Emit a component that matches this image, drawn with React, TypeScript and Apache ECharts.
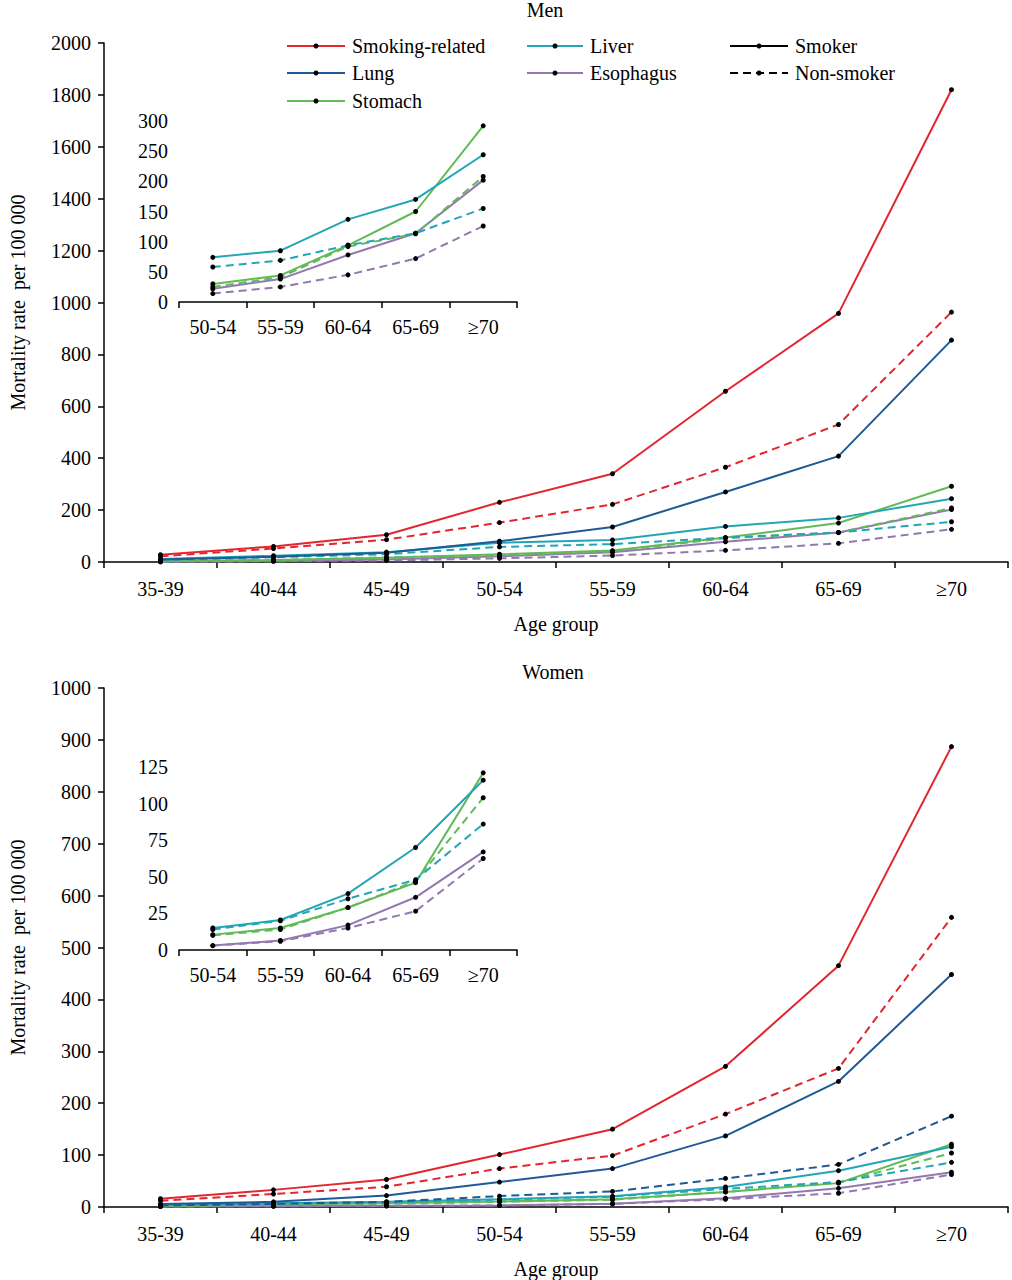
import React, { useEffect, useRef } from "react";
import * as echarts from "echarts";

const ageGroups = ["35-39", "40-44", "45-49", "50-54", "55-59", "60-64", "65-69", "≥70"];
const insetFrom = 3;

// Men (per 100 000)
const menSmokingRelatedSmoker = [28, 60, 105, 230, 340, 658, 958, 1820];
const menSmokingRelatedNonSmoker = [22, 52, 86, 152, 222, 365, 530, 963];
const menLungSmoker = [10, 20, 36, 80, 135, 270, 408, 855];
const menLiverSmoker = [12, 24, 38, 74, 85, 137, 170, 244];
const menLiverNonSmoker = [8, 18, 30, 58, 69, 94, 114, 155];
const menStomachSmoker = [3, 8, 16, 30, 44, 94, 150, 292];
const menStomachNonSmoker = [3, 7, 18, 25, 41, 92, 113, 208];
const menEsophagusSmoker = [1, 4, 10, 22, 38, 78, 114, 202];
const menEsophagusNonSmoker = [1, 3, 6, 14, 25, 45, 72, 126];

// Women (per 100 000)
const womenSmokingRelatedSmoker = [16, 33, 53, 101, 150, 271, 465, 887];
const womenSmokingRelatedNonSmoker = [12, 25, 39, 74, 99, 179, 267, 558];
const womenLungSmoker = [6, 10, 22, 48, 74, 137, 242, 448];
const womenLungNonSmoker = [3, 6, 10, 21, 30, 55, 82, 175];
const womenLiverSmoker = [4, 7, 10, 15, 20.5, 38.5, 70, 116];
const womenLiverNonSmoker = [3, 6, 9, 14, 20, 35, 48, 86];
const womenStomachSmoker = [2, 5, 7, 10.5, 15, 29, 46, 121];
const womenStomachNonSmoker = [2, 4, 6, 10, 14, 29, 47, 104];
const womenEsophagusSmoker = [1, 2, 2.5, 3, 6.5, 17, 36, 67];
const womenEsophagusNonSmoker = [1, 1.5, 2, 3, 6, 15, 26.5, 62.5];

const legendLabels = ["Smoking-related", "Lung", "Stomach", "Liver", "Esophagus", "Smoker", "Non-smoker"];

const C = {
  red: "#e3262d",
  lung: "#1f5996",
  liver: "#22a6b6",
  esoph: "#9378b0",
  stomach: "#62b957",
  black: "#000000",
};

const FONT = "Liberation Serif, Times New Roman, serif";
const plain = (v: number) => String(v);

function line(name: string, data: number[], color: string, dashed: boolean, axis: number) {
  return {
    type: "line",
    name,
    data,
    xAxisIndex: axis,
    yAxisIndex: axis,
    symbol: "circle",
    symbolSize: 5,
    showSymbol: true,
    itemStyle: { color: "#000" },
    lineStyle: { color, width: 2, type: dashed ? [8, 5] : "solid" },
    emphasis: { disabled: true },
  };
}

function mainX(gridIndex: number) {
  return {
    type: "category",
    gridIndex,
    data: ageGroups,
    boundaryGap: true,
    axisLine: { show: true, lineStyle: { color: "#000", width: 1.5 } },
    axisTick: { show: true, length: 6, lineStyle: { color: "#000", width: 1.5 } },
    axisLabel: { color: "#000", fontSize: 20, fontFamily: FONT, margin: 17 },
    name: "Age group",
    nameLocation: "middle",
    nameGap: 52,
    nameTextStyle: { color: "#000", fontSize: 20, fontFamily: FONT },
  };
}

function mainY(gridIndex: number, max: number, interval: number) {
  return {
    type: "value",
    gridIndex,
    min: 0,
    max,
    interval,
    splitLine: { show: false },
    axisLine: { show: true, lineStyle: { color: "#000", width: 1.5 } },
    axisTick: { show: true, length: 6, lineStyle: { color: "#000", width: 1.5 } },
    axisLabel: { color: "#000", fontSize: 20, fontFamily: FONT, margin: 13, formatter: plain },
    name: "Mortality rate  per 100 000",
    nameLocation: "middle",
    nameRotate: 90,
    nameGap: 76,
    nameTextStyle: { color: "#000", fontSize: 20, fontFamily: FONT },
  };
}

function insetX(gridIndex: number) {
  return {
    type: "category",
    gridIndex,
    data: ageGroups.slice(insetFrom),
    boundaryGap: true,
    axisLine: { show: true, lineStyle: { color: "#000", width: 1.5 } },
    axisTick: { show: true, length: 6, lineStyle: { color: "#000", width: 1.5 } },
    axisLabel: { color: "#000", fontSize: 20, fontFamily: FONT, margin: 15 },
  };
}

function insetY(gridIndex: number, max: number, interval: number) {
  return {
    type: "value",
    gridIndex,
    min: 0,
    max,
    interval,
    splitLine: { show: false },
    axisLine: { show: false },
    axisTick: { show: false },
    axisLabel: { color: "#000", fontSize: 20, fontFamily: FONT, margin: 11, formatter: plain },
  };
}

function legendGraphics() {
  const cols = [
    { x1: 287, x2: 345, tx: 352 },
    { x1: 527, x2: 583, tx: 590 },
    { x1: 730, x2: 788, tx: 795 },
  ];
  const rows = [46, 73, 101];
  const items = [
    { label: legendLabels[0], color: C.red, dashed: false, c: 0, r: 0 },
    { label: legendLabels[1], color: C.lung, dashed: false, c: 0, r: 1 },
    { label: legendLabels[2], color: C.stomach, dashed: false, c: 0, r: 2 },
    { label: legendLabels[3], color: C.liver, dashed: false, c: 1, r: 0 },
    { label: legendLabels[4], color: C.esoph, dashed: false, c: 1, r: 1 },
    { label: legendLabels[5], color: C.black, dashed: false, c: 2, r: 0 },
    { label: legendLabels[6], color: C.black, dashed: true, c: 2, r: 1 },
  ];
  const els: any[] = [];
  items.forEach((it) => {
    const col = cols[it.c];
    const y = rows[it.r];
    els.push({
      type: "line",
      shape: { x1: col.x1, y1: y, x2: col.x2, y2: y },
      style: { stroke: it.color, lineWidth: 2, lineDash: it.dashed ? [8, 5] : null },
    });
    els.push({
      type: "circle",
      shape: { cx: (col.x1 + col.x2) / 2, cy: y, r: 2.5 },
      style: { fill: "#000" },
    });
    els.push({
      type: "text",
      x: col.tx,
      y,
      style: {
        text: it.label,
        fill: "#000",
        font: `20px ${FONT}`,
        textVerticalAlign: "middle",
        verticalAlign: "middle",
      },
    });
  });
  return els;
}

export default function App() {
  const ref = useRef<HTMLDivElement>(null);
  useEffect(() => {
    document.body.style.margin = "0";
    if (!ref.current) return;
    const chart = echarts.init(ref.current, null, { renderer: "svg" });
    const sl = (a: number[]) => a.slice(insetFrom);
    const option: any = {
      animation: false,
      backgroundColor: "#fff",
      title: [
        { text: "Men", left: 545, top: 0, padding: 0, textAlign: "center", textStyle: { fontSize: 20, fontWeight: "normal", fontFamily: FONT, color: "#000" } },
        { text: "Women", left: 553, top: 662, padding: 0, textAlign: "center", textStyle: { fontSize: 20, fontWeight: "normal", fontFamily: FONT, color: "#000" } },
      ],
      grid: [
        { left: 97, top: 43, width: 911, height: 519 },
        { left: 179, top: 121, width: 338, height: 181 },
        { left: 97, top: 688, width: 911, height: 520 },
        { left: 179, top: 767, width: 338, height: 183 },
      ],
      xAxis: [mainX(0), insetX(1), mainX(2), insetX(3)],
      yAxis: [mainY(0, 2000, 200), insetY(1, 300, 50), mainY(2, 1000, 100), insetY(3, 125, 25)],
      series: [
        // Men main
        line("Esophagus non-smoker", menEsophagusNonSmoker, C.esoph, true, 0),
        line("Esophagus smoker", menEsophagusSmoker, C.esoph, false, 0),
        line("Stomach non-smoker", menStomachNonSmoker, C.stomach, true, 0),
        line("Stomach smoker", menStomachSmoker, C.stomach, false, 0),
        line("Liver non-smoker", menLiverNonSmoker, C.liver, true, 0),
        line("Liver smoker", menLiverSmoker, C.liver, false, 0),
        line("Lung smoker", menLungSmoker, C.lung, false, 0),
        line("Smoking-related non-smoker", menSmokingRelatedNonSmoker, C.red, true, 0),
        line("Smoking-related smoker", menSmokingRelatedSmoker, C.red, false, 0),
        // Men inset
        line("Esophagus non-smoker", sl(menEsophagusNonSmoker), C.esoph, true, 1),
        line("Esophagus smoker", sl(menEsophagusSmoker), C.esoph, false, 1),
        line("Stomach non-smoker", sl(menStomachNonSmoker), C.stomach, true, 1),
        line("Stomach smoker", sl(menStomachSmoker), C.stomach, false, 1),
        line("Liver non-smoker", sl(menLiverNonSmoker), C.liver, true, 1),
        line("Liver smoker", sl(menLiverSmoker), C.liver, false, 1),
        // Women main
        line("Esophagus non-smoker", womenEsophagusNonSmoker, C.esoph, true, 2),
        line("Esophagus smoker", womenEsophagusSmoker, C.esoph, false, 2),
        line("Stomach non-smoker", womenStomachNonSmoker, C.stomach, true, 2),
        line("Stomach smoker", womenStomachSmoker, C.stomach, false, 2),
        line("Liver non-smoker", womenLiverNonSmoker, C.liver, true, 2),
        line("Liver smoker", womenLiverSmoker, C.liver, false, 2),
        line("Lung non-smoker", womenLungNonSmoker, C.lung, true, 2),
        line("Lung smoker", womenLungSmoker, C.lung, false, 2),
        line("Smoking-related non-smoker", womenSmokingRelatedNonSmoker, C.red, true, 2),
        line("Smoking-related smoker", womenSmokingRelatedSmoker, C.red, false, 2),
        // Women inset
        line("Esophagus non-smoker", sl(womenEsophagusNonSmoker), C.esoph, true, 3),
        line("Esophagus smoker", sl(womenEsophagusSmoker), C.esoph, false, 3),
        line("Stomach non-smoker", sl(womenStomachNonSmoker), C.stomach, true, 3),
        line("Stomach smoker", sl(womenStomachSmoker), C.stomach, false, 3),
        line("Liver non-smoker", sl(womenLiverNonSmoker), C.liver, true, 3),
        line("Liver smoker", sl(womenLiverSmoker), C.liver, false, 3),
      ],
      graphic: legendGraphics(),
    };
    chart.setOption(option);
    return () => chart.dispose();
  }, []);
  return <div ref={ref} style={{ width: 1012, height: 1280 }} />;
}
